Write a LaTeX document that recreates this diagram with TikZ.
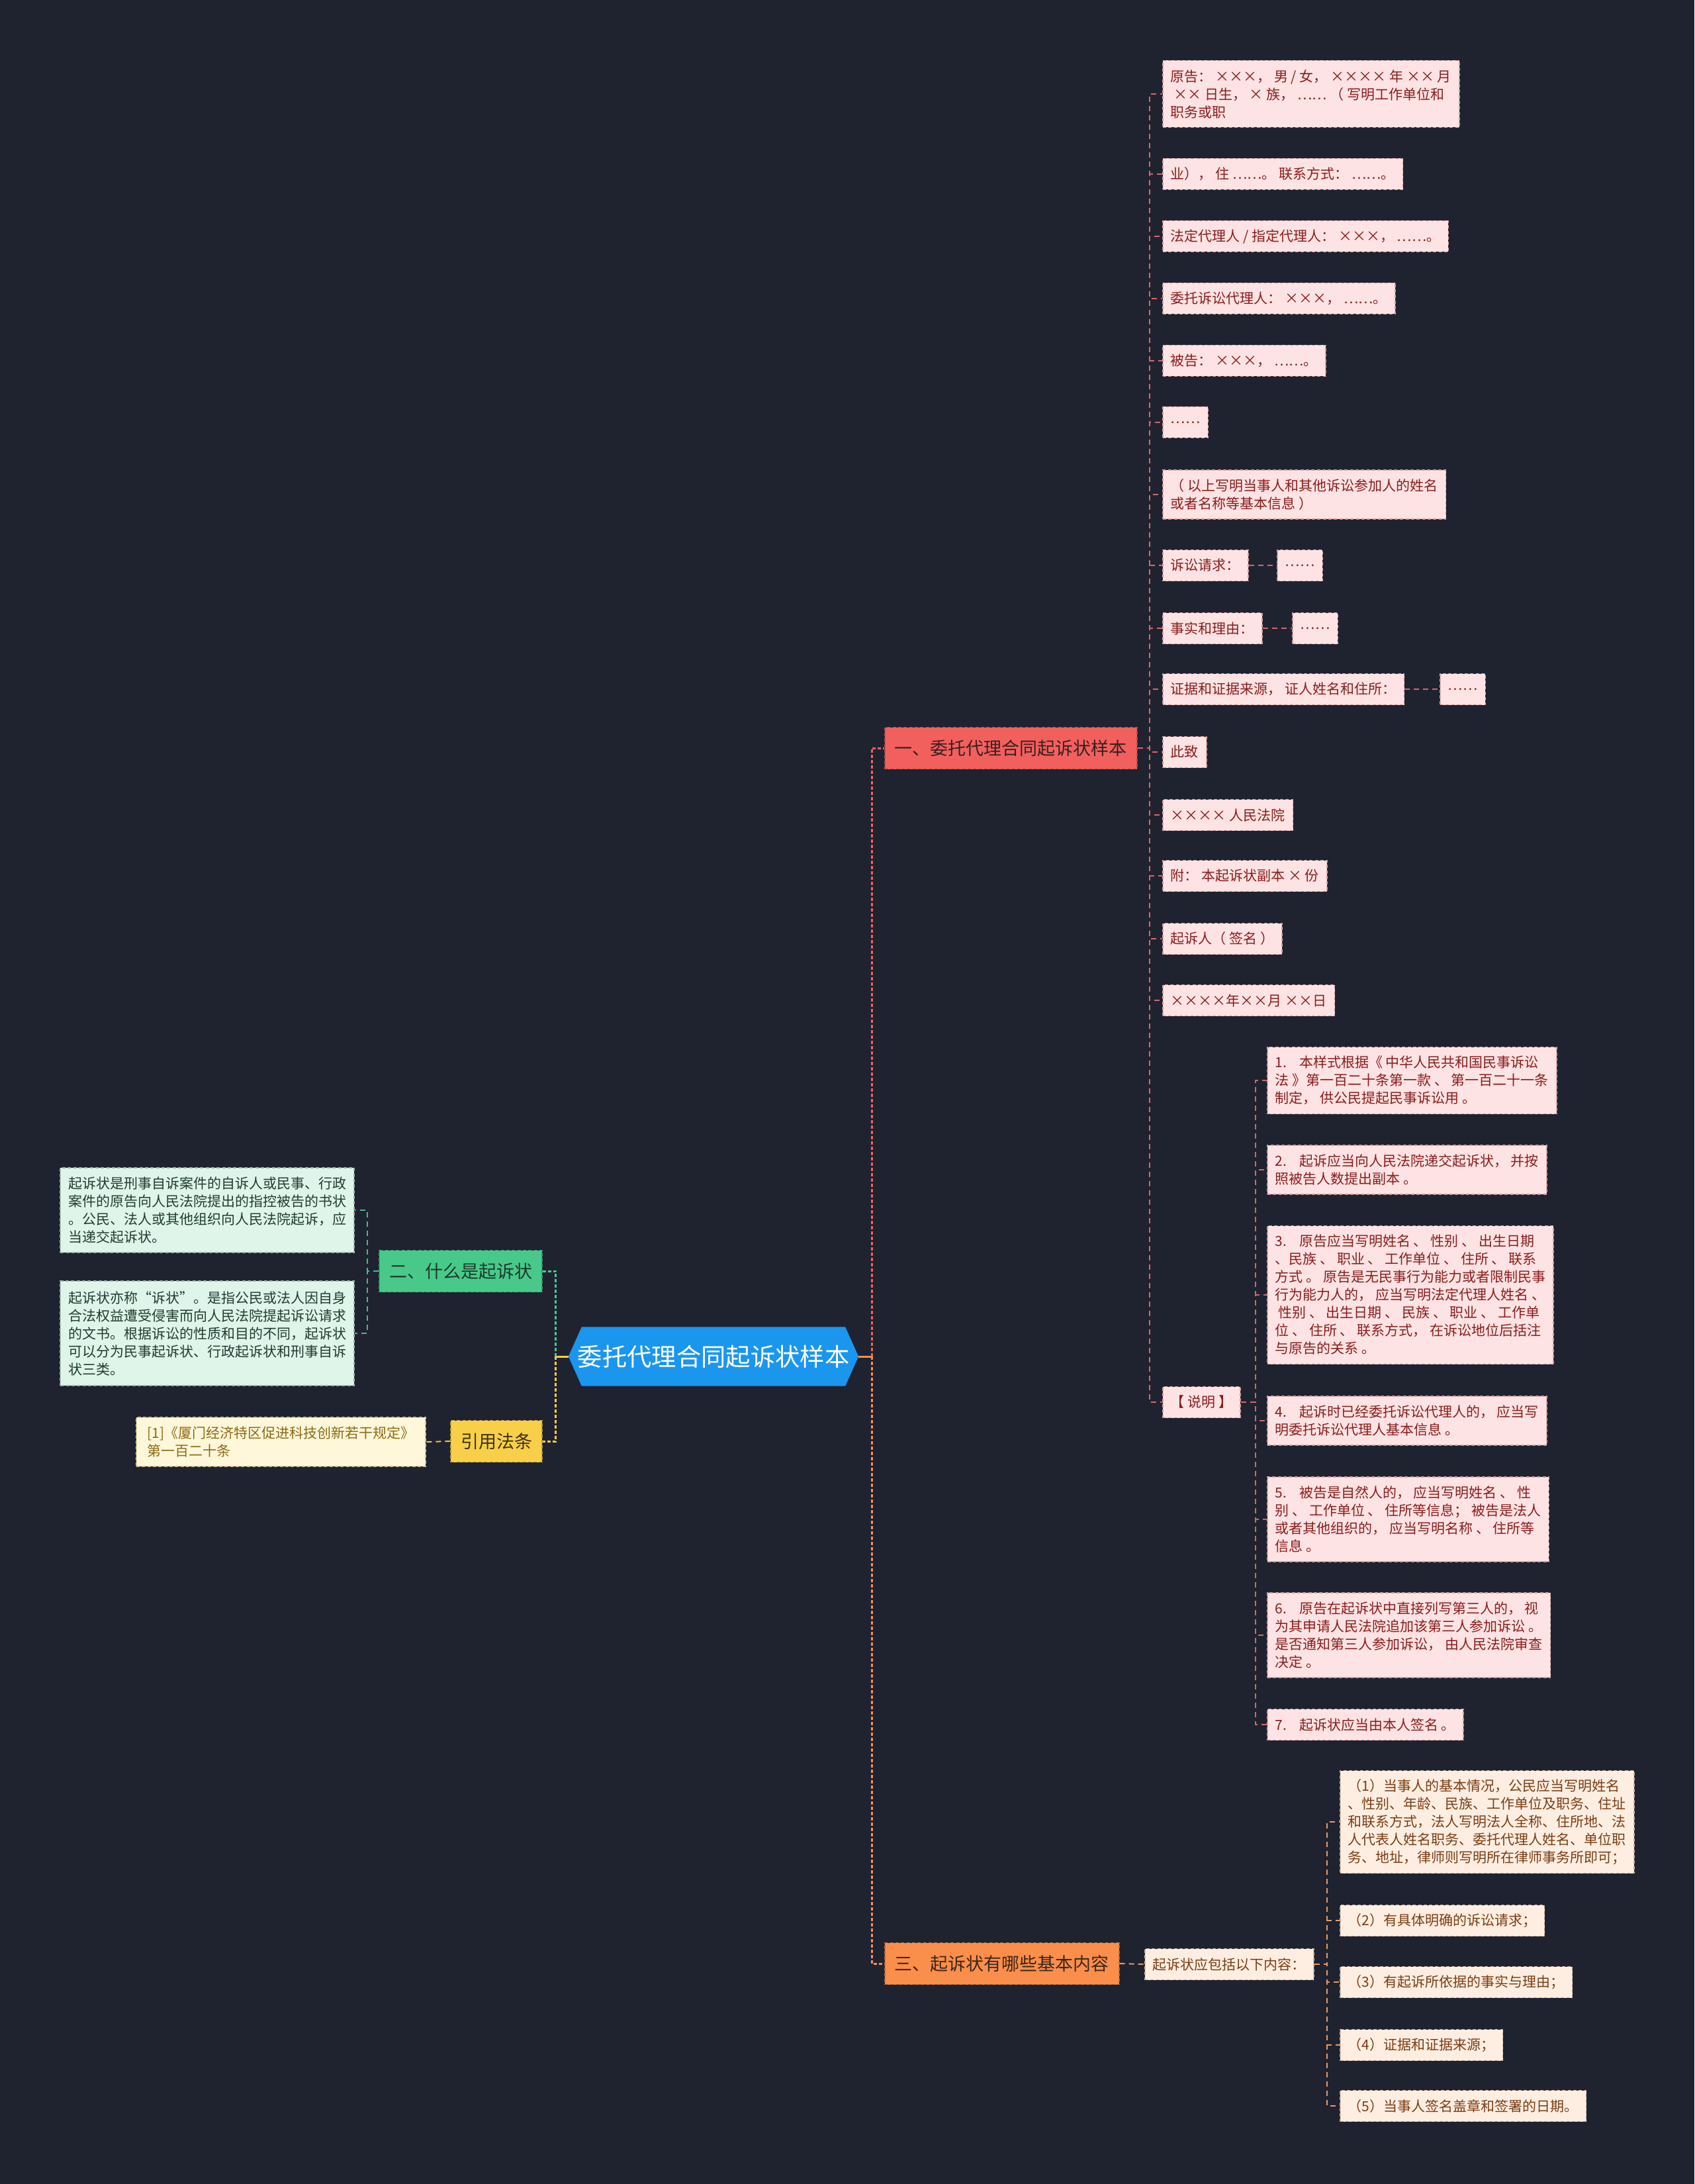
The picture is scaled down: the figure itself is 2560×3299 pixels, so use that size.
\documentclass[tikz,border=0pt]{standalone}
\usepackage{fontspec}
\setmainfont{Noto Sans CJK SC}
\usetikzlibrary{backgrounds}
\definecolor{bgc}{HTML}{1F2330}
\definecolor{rootc}{HTML}{1B96EE}
\definecolor{cR}{HTML}{F2605E}
\definecolor{cRt}{HTML}{3B1F1F}
\definecolor{cO}{HTML}{FA8E4B}
\definecolor{cOt}{HTML}{3D2618}
\definecolor{cG}{HTML}{48C98A}
\definecolor{cGt}{HTML}{1B3A2B}
\definecolor{cY}{HTML}{F8CF48}
\definecolor{cYt}{HTML}{3D3214}
\definecolor{rF}{HTML}{FDE3E3}
\definecolor{rT}{HTML}{8A1C1C}
\definecolor{oF}{HTML}{FEEEE2}
\definecolor{oT}{HTML}{7B3C12}
\definecolor{gF}{HTML}{DFF5EA}
\definecolor{gT}{HTML}{1F3D2E}
\definecolor{yF}{HTML}{FFF7DA}
\definecolor{yT}{HTML}{8C6A12}
\definecolor{rL}{HTML}{D86666}
\definecolor{oL}{HTML}{E89A66}
\definecolor{gL}{HTML}{40BE85}
\definecolor{yL}{HTML}{F2C540}
\newcommand{\nsp}{\hspace{0.9em}}
\tikzset{
  x=0.3pt, y=-0.3pt,
  box/.style={rectangle, inner xsep=3.6pt, inner ysep=1pt, align=left,
    line width=0.5pt, dash pattern=on 1.5pt off 1pt,
    font=\fontsize{6.3}{8.1}\selectfont},
  l1/.style={minimum height=14.1pt},
  l2/.style={minimum height=22.2pt},
  l3/.style={minimum height=30.3pt},
  l4/.style={minimum height=38.4pt},
  l5/.style={minimum height=46.5pt},
  l7/.style={minimum height=62.7pt},
  rleaf/.style={box, fill=rF, draw=rT!35!rF, text=rT, anchor=west},
  oleaf/.style={box, fill=oF, draw=oT!35!oF, text=oT, anchor=west},
  gleaf/.style={box, fill=gF, draw=gT!35!gF, text=gT, anchor=east},
  yleaf/.style={box, fill=yF, draw=yT!35!yF, text=yT, anchor=east},
  branch/.style={rectangle, inner xsep=4.5pt, inner ysep=1pt, minimum height=18.9pt,
    line width=0.5pt, dash pattern=on 1.5pt off 1pt,
    font=\fontsize{8.1}{9.7}\selectfont},
  rlink/.style={draw=rL, line width=0.6pt, dash pattern=on 2.4pt off 1.8pt},
  olink/.style={draw=oL, line width=0.6pt, dash pattern=on 2.4pt off 1.8pt},
  glink/.style={draw=gL, line width=0.6pt, dash pattern=on 2.4pt off 1.8pt},
  ylink/.style={draw=yL, line width=0.6pt, dash pattern=on 2.4pt off 1.8pt},
  trunk/.style={line width=0.9pt, dash pattern=on 1.5pt off 0.9pt},
}
\begin{document}
\begin{tikzpicture}
\useasboundingbox (0,0) rectangle (2560,3299);
\begin{scope}[on background layer]
\fill[bgc] (0,0) rectangle (2560,3299);
\end{scope}

% root
\node[rectangle, inner sep=0pt, minimum width=131.1pt, minimum height=26.4pt,
  text=white, font=\fontsize{11.2}{13}\selectfont] (root) at (1078,2049) {委托代理合同起诉状样本};

% branches
\node[branch, fill=cR, draw=cRt!35!cR, text=cRt, anchor=west] (b1) at (1336,1130) {一、委托代理合同起诉状样本};
\node[branch, fill=cO, draw=cOt!35!cO, text=cOt, anchor=west] (b3) at (1336,2966) {三、起诉状有哪些基本内容};
\node[branch, fill=cG, draw=cGt!35!cG, text=cGt, anchor=east] (b2) at (820,1920) {二、什么是起诉状};
\node[branch, fill=cY, draw=cYt!35!cY, text=cYt, anchor=east] (b4) at (820,2177) {引用法条};

% red leaves
\node[rleaf,l3] (r1) at (1756,142) {原告： ×××， 男 / 女， ×××× 年 ×× 月\\\ ×× 日生， × 族， …… （ 写明工作单位和\\职务或职};
\node[rleaf,l1] (r2) at (1756,263) {业）， 住 ……。 联系方式： ……。};
\node[rleaf,l1] (r3) at (1756,357) {法定代理人 / 指定代理人： ×××， ……。};
\node[rleaf,l1] (r4) at (1756,451) {委托诉讼代理人： ×××， ……。};
\node[rleaf,l1] (r5) at (1756,545) {被告： ×××， ……。};
\node[rleaf,l1] (r6) at (1756,638) {……};
\node[rleaf,l2] (r7) at (1756,747) {（ 以上写明当事人和其他诉讼参加人的姓名\\或者名称等基本信息 ）};
\node[rleaf,l1] (r8) at (1756,854) {诉讼请求：};
\node[rleaf,l1] (r8b) at (1929,854) {……};
\node[rleaf,l1] (r9) at (1756,949) {事实和理由：};
\node[rleaf,l1] (r9b) at (1952,949) {……};
\node[rleaf,l1] (r10) at (1756,1041) {证据和证据来源， 证人姓名和住所：};
\node[rleaf,l1] (r10b) at (2175,1041) {……};
\node[rleaf,l1] (r11) at (1756,1136) {此致};
\node[rleaf,l1] (r12) at (1756,1231) {×××× 人民法院};
\node[rleaf,l1] (r13) at (1756,1323) {附： 本起诉状副本 × 份};
\node[rleaf,l1] (r14) at (1756,1418) {起诉人（ 签名 ）};
\node[rleaf,l1] (r15) at (1756,1511) {××××年××月 ××日};
\node[rleaf,l1] (r16) at (1756,2118) {【 说明 】};

% explanation items
\node[rleaf,l3] (s1) at (1914,1632) {1.\nsp 本样式根据《 中华人民共和国民事诉讼\\法 》第一百二十条第一款 、 第一百二十一条\\制定， 供公民提起民事诉讼用 。};
\node[rleaf,l2] (s2) at (1914,1767) {2.\nsp 起诉应当向人民法院递交起诉状， 并按\\照被告人数提出副本 。};
\node[rleaf,l7] (s3) at (1914,1956) {3.\nsp 原告应当写明姓名 、 性别 、 出生日期\\、民族 、 职业 、 工作单位 、 住所 、 联系\\方式 。 原告是无民事行为能力或者限制民事\\行为能力人的， 应当写明法定代理人姓名 、\\\ 性别 、 出生日期 、 民族 、 职业 、 工作单\\位 、 住所 、 联系方式， 在诉讼地位后括注\\与原告的关系 。};
\node[rleaf,l2] (s4) at (1914,2146) {4.\nsp 起诉时已经委托诉讼代理人的， 应当写\\明委托诉讼代理人基本信息 。};
\node[rleaf,l4] (s5) at (1914,2295) {5.\nsp 被告是自然人的， 应当写明姓名 、 性\\别 、 工作单位 、 住所等信息； 被告是法人\\或者其他组织的， 应当写明名称 、 住所等\\信息 。};
\node[rleaf,l4] (s6) at (1914,2470) {6.\nsp 原告在起诉状中直接列写第三人的， 视\\为其申请人民法院追加该第三人参加诉讼 。\\是否通知第三人参加诉讼， 由人民法院审查\\决定 。};
\node[rleaf,l1] (s7) at (1914,2605) {7.\nsp 起诉状应当由本人签名 。};

% orange
\node[oleaf,l1] (osub) at (1729,2967) {起诉状应包括以下内容：};
\node[oleaf,l5] (o1) at (2024,2752) {（1）当事人的基本情况，公民应当写明姓名\\、性别、年龄、民族、工作单位及职务、住址\\和联系方式，法人写明法人全称、住所地、法\\人代表人姓名职务、委托代理人姓名、单位职\\务、地址，律师则写明所在律师事务所即可；};
\node[oleaf,l1] (o2) at (2024,2901) {（2）有具体明确的诉讼请求；};
\node[oleaf,l1] (o3) at (2024,2994) {（3）有起诉所依据的事实与理由；};
\node[oleaf,l1] (o4) at (2024,3089) {（4）证据和证据来源；};
\node[oleaf,l1] (o5) at (2024,3181) {（5）当事人签名盖章和签署的日期。};

% green
\node[gleaf,l4] (g1) at (536,1828) {起诉状是刑事自诉案件的自诉人或民事、行政\\案件的原告向人民法院提出的指控被告的书状\\。公民、法人或其他组织向人民法院起诉，应\\当递交起诉状。};
\node[gleaf,l5,minimum height=47.4pt] (g2) at (536,2014) {起诉状亦称“诉状”。是指公民或法人因自身\\合法权益遭受侵害而向人民法院提起诉讼请求\\的文书。根据诉讼的性质和目的不同，起诉状\\可以分为民事起诉状、行政起诉状和刑事自诉\\状三类。};

% yellow
\node[yleaf,l2,inner xsep=5pt] (y1) at (644,2178) {[1]《厦门经济特区促进科技创新若干规定》\\第一百二十条};

\coordinate (rx) at (1737,0);
\coordinate (sx) at (1897,0);
\coordinate (ox) at (2005,0);
\coordinate (gx) at (555,0);

\begin{scope}[on background layer]
\fill[rootc] (root.west) -- ([xshift=6pt]root.north west) -- ([xshift=-6pt]root.north east)
  -- (root.east) -- ([xshift=-6pt]root.south east) -- ([xshift=6pt]root.south west) -- cycle;
% root trunks
\draw[draw=cO, line width=0.9pt] (root.east) -- ++(20,0) coordinate (rj);
\draw[draw=cY, line width=0.9pt] (root.west) -- ++(-19,0) coordinate (lj);
\draw[trunk, draw=cR] (rj) |- (b1.west);
\draw[trunk, draw=cO] (rj) |- (b3.west);
\draw[trunk, draw=cG] (lj) |- (b2.east);
\draw[trunk, draw=cY] (lj) |- (b4.east);
% red leaves
\foreach \nm in {r1,r2,r3,r4,r5,r6,r7,r8,r9,r10,r11,r12,r13,r14,r15,r16}
  \draw[rlink] (b1.east) -- (b1.east -| rx) |- (\nm.west);
\draw[rlink] (r8.east) -- (r8b.west);
\draw[rlink] (r9.east) -- (r9b.west);
\draw[rlink] (r10.east) -- (r10b.west);
\foreach \nm in {s1,s2,s3,s4,s5,s6,s7}
  \draw[rlink] (r16.east) -- (r16.east -| sx) |- (\nm.west);
% orange
\draw[olink] (b3.east) -- (osub.west);
\foreach \nm in {o1,o2,o3,o4,o5}
  \draw[olink] (osub.east) -- (osub.east -| ox) |- (\nm.west);
% green
\foreach \nm in {g1,g2}
  \draw[glink] (b2.west) -- (b2.west -| gx) |- (\nm.east);
% yellow
\draw[ylink] (b4.west) -- (y1.east);
\end{scope}
\end{tikzpicture}
\end{document}
